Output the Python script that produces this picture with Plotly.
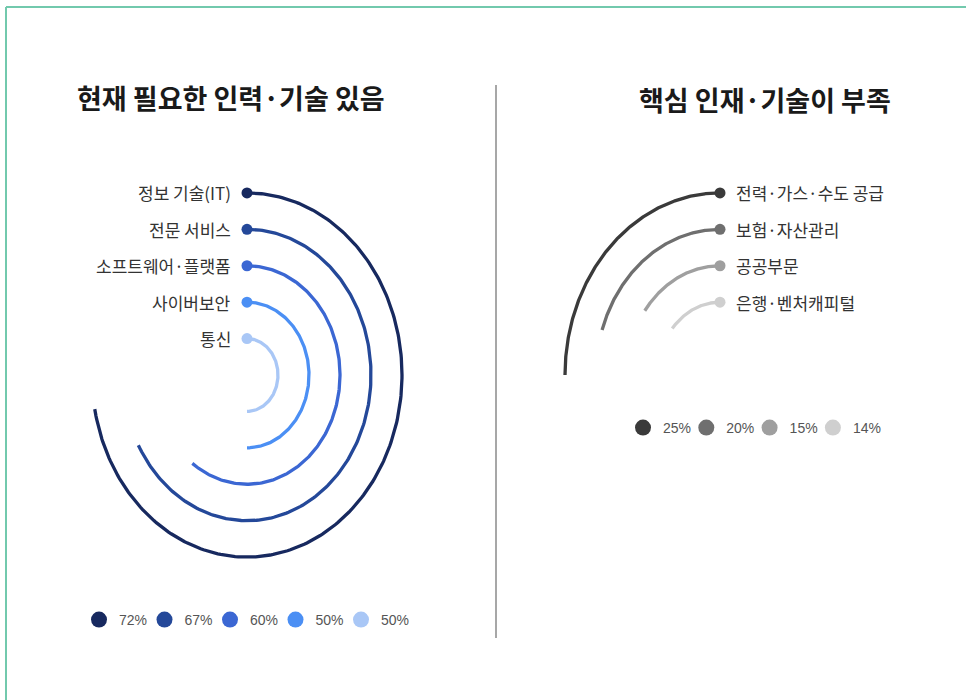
import numpy as np
import plotly.graph_objects as go

# ---- data ----
left_title = "현재 필요한 인력·기술 있음"
left_labels = ["정보 기술(IT)", "전문 서비스", "소프트웨어·플랫폼", "사이버보안", "통신"]
left_values = [72, 67, 60, 50, 50]
left_colors = ["#17295f", "#244899", "#3b67d3", "#4b8ff4", "#a9c7f6"]

right_title = "핵심 인재·기술이 부족"
right_labels = ["전력·가스·수도 공급", "보험·자산관리", "공공부문", "은행·벤처캐피털"]
right_values = [25, 20, 15, 14]
right_colors = ["#3a3a3a", "#6f6f6f", "#9f9f9f", "#cfcfcf"]

W, H = 966, 700
KR = "Noto Sans CJK KR"

fig = go.Figure()


def radial_bars(values, labels, colors, xa, ya, legend, clockwise):
    """One ring per category: arc from 12 o'clock, full circle = 100%."""
    sign = 1 if clockwise else -1
    for i, (v, lab, c) in enumerate(zip(values, labels, colors)):
        r = 5 - i  # outer ring first
        theta = np.linspace(0, v / 100 * 2 * np.pi, 240)
        fig.add_trace(go.Scatter(
            x=sign * r * np.sin(theta), y=r * np.cos(theta),
            mode="lines", line=dict(color=c, width=3.3),
            xaxis=xa, yaxis=ya, showlegend=False, hoverinfo="skip"))
        # start dot
        fig.add_trace(go.Scatter(
            x=[0], y=[r], mode="markers",
            marker=dict(color=c, size=11),
            xaxis=xa, yaxis=ya, showlegend=False, hoverinfo="skip"))
        # legend entry
        fig.add_trace(go.Scatter(
            x=[None], y=[None], mode="markers", name=f"{v}%",
            marker=dict(color=c, size=18),
            xaxis=xa, yaxis=ya, legend=legend, showlegend=True))
        fig.add_annotation(
            x=-0.45 * sign, y=r, xref=xa, yref=ya, text=lab, showarrow=False,
            xanchor="right" if clockwise else "left", yanchor="middle",
            font=dict(family=KR, size=17, color="#333333"))
    # blank trailing slot so the last legend label is not cut off
    fig.add_trace(go.Scatter(
        x=[None], y=[None], mode="markers", name=" ",
        marker=dict(color="rgba(0,0,0,0)", size=1),
        xaxis=xa, yaxis=ya, legend=legend, showlegend=True, hoverinfo="skip"))


radial_bars(left_values, left_labels, left_colors, "x", "y", "legend", True)
radial_bars(right_values, right_labels, right_colors, "x2", "y2", "legend2", False)

ydom = [1 - 593.5 / H, 1 - 156.5 / H]
ax = dict(range=[-6, 6], visible=False, fixedrange=True)
legend_font = dict(family="Liberation Sans", size=14, color="#555555")
fig.update_layout(
    width=W, height=H, margin=dict(l=0, r=0, t=0, b=0),
    paper_bgcolor="white", plot_bgcolor="rgba(0,0,0,0)",
    xaxis=dict(ax, domain=[61 / W, 433 / W], anchor="y"),
    yaxis=dict(ax, domain=ydom, anchor="x"),
    xaxis2=dict(ax, domain=[534 / W, 906 / W], anchor="y2"),
    yaxis2=dict(ax, domain=ydom, anchor="x2"),
    legend=dict(orientation="h", x=79 / W, y=1 - 620 / H, xanchor="left", yanchor="middle",
                entrywidth=20.5, entrywidthmode="pixels", itemsizing="trace",
                font=legend_font, bgcolor="rgba(0,0,0,0)"),
    legend2=dict(orientation="h", x=623 / W, y=1 - 428 / H, xanchor="left", yanchor="middle",
                 entrywidth=18.3, entrywidthmode="pixels", itemsizing="trace",
                 font=legend_font, bgcolor="rgba(0,0,0,0)"),
)

# titles
fig.add_annotation(x=231 / W, y=1 - 97 / H, xref="paper", yref="paper", text=f"<b>{left_title}</b>",
                   showarrow=False, xanchor="center", yanchor="middle",
                   font=dict(family=KR, size=27, color="#1a1a1a"))
fig.add_annotation(x=765 / W, y=1 - 100 / H, xref="paper", yref="paper", text=f"<b>{right_title}</b>",
                   showarrow=False, xanchor="center", yanchor="middle",
                   font=dict(family=KR, size=27, color="#1a1a1a"))

# divider and frame
fig.add_shape(type="line", xref="paper", yref="paper", x0=496 / W, x1=496 / W,
              y0=1 - 85 / H, y1=1 - 638 / H, line=dict(color="#8a8a8a", width=1.5))
fig.add_shape(type="line", xref="paper", yref="paper", x0=6 / W, x1=1, y0=1 - 7 / H, y1=1 - 7 / H,
              line=dict(color="#72c9ad", width=2))
fig.add_shape(type="line", xref="paper", yref="paper", x0=6 / W, x1=6 / W, y0=1 - 7 / H, y1=0,
              line=dict(color="#72c9ad", width=2))

# keep the fixed-size figure flush with the page (no scrollbars)
fig.write_html(
    "out.html",
    post_script="document.documentElement.style.overflow='hidden';"
                "document.body.style.margin='0';document.body.style.overflow='hidden';",
)
